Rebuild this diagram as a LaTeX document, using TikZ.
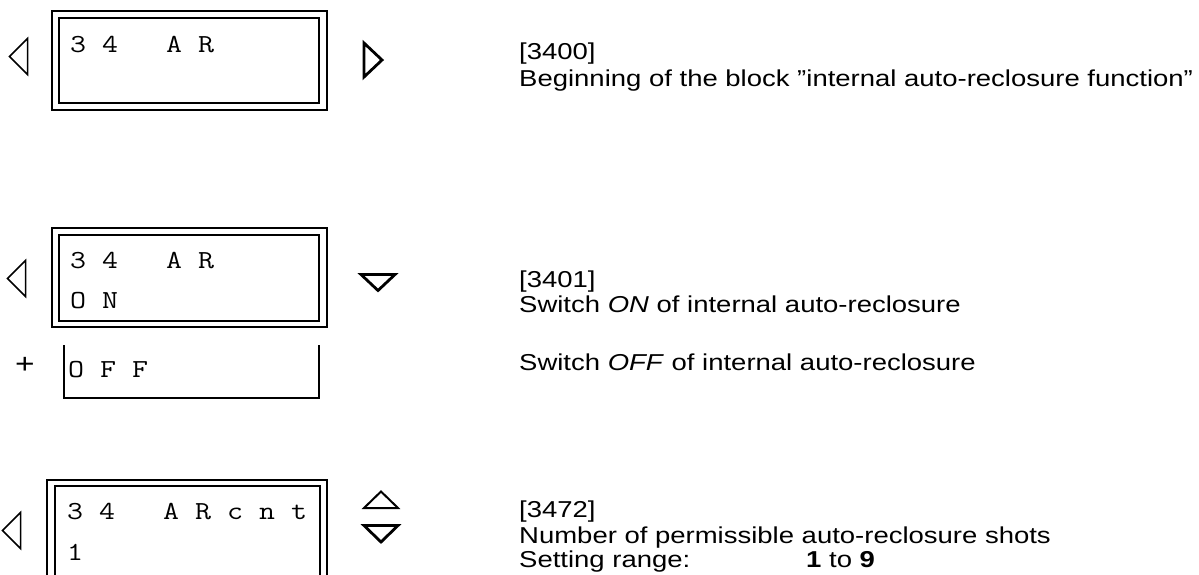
\documentclass[tikz,border=0pt]{standalone}
\usepackage{fontspec}
\setmainfont{Liberation Sans}[FakeStretch=1.195]
\usetikzlibrary{positioning}
\newcommand{\txtfont}{\fontsize{23}{25}\selectfont}
% display text: fixed pitch of about 16.3 px per character cell
\newcommand{\lcdtext}[1]{\scalebox{1.194}[1]{\fontsize{26}{28}\selectfont\ttfamily #1}}

\begin{document}
\begin{tikzpicture}[x=1pt, y=-1pt,
  frame/.style={draw=black, line width=2pt},
  keythin/.style={draw=black, line width=1.5pt, line join=miter},
  keybold/.style={draw=black, line width=2.8pt, line join=miter},
  lcd/.style={anchor=base west, inner sep=0pt},
  txt/.style={font=\txtfont, anchor=base west, inner sep=0pt}]
\useasboundingbox (0,0) rectangle (1199,574);
\clip (0,0) rectangle (1199,574);

% left keys, one per display
\foreach \x/\y in {27.5/56.5, 25.5/278.5, 20.5/530.5}
  \draw[keythin] (\x,\y-18) -- (\x-18,\y) -- (\x,\y+18) -- cycle;

% ================================================================== [3400] block start
\draw[frame] (52,11) rectangle (327,110);
\draw[frame] (59,18) rectangle (319,103);
\node[lcd] (ar0a) at (70,52) {\lcdtext{3~4~~~A~R}};
\draw[keybold] (364,43) -- (382,60) -- (364,77) -- cycle;
\node[txt] (par0) at (519,59) {[3400]};
\node[txt] (desc0) at (519,86) {Beginning of the block ”internal auto-reclosure function”};

% ================================================================== [3401] AR on/off
\draw[frame] (52,228) rectangle (327,327);
\draw[frame] (59,234.5) rectangle (319,321);
\node[lcd] (ar1a) at (70,268) {\lcdtext{3~4~~~A~R}};
\node[lcd] (ar1b) at (70,308) {\lcdtext{O~N}};
\draw[keybold] (361,274.5) -- (395,274.5) -- (378,290.5) -- cycle;
\node[txt] (par1) at (519,287) {[3401]};
\node[txt] (desc1) at (519,312) {Switch \textit{ON} of internal auto-reclosure};
% alternative value
\node[font=\fontsize{28}{30}\selectfont, inner sep=0pt] (plus) at (25,365) {+};
\draw[frame] (64,345) -- (64,398) -- (319,398) -- (319,345);
\node[lcd] (ar1c) at (68,377) {\lcdtext{O~F~F}};
\node[txt] (desc1b) at (519,370) {Switch \textit{OFF} of internal auto-reclosure};

% ================================================================== [3472] AR shots
\draw[frame] (47,480) rectangle (327,600);
\draw[frame] (55,486) rectangle (320,600);
\node[lcd] (ar2a) at (67,519) {\lcdtext{3~4~~~A~R~c~n~t}};
\node[lcd] (ar2b) at (67,560) {\lcdtext{1}};
\draw[keythin, line width=2pt] (364,508) -- (381,491.5) -- (398,508) -- cycle;
\draw[keybold] (364,525.5) -- (398,525.5) -- (381,542) -- cycle;
\node[txt] (par2) at (519,517) {[3472]};
\node[txt] (desc2) at (519,543) {Number of permissible auto-reclosure shots};
\node[txt] (rng2) at (519,567) {Setting range:};
\node[txt] (val2) at (806,567) {\textbf{1} to \textbf{9}};
\end{tikzpicture}
\end{document}
